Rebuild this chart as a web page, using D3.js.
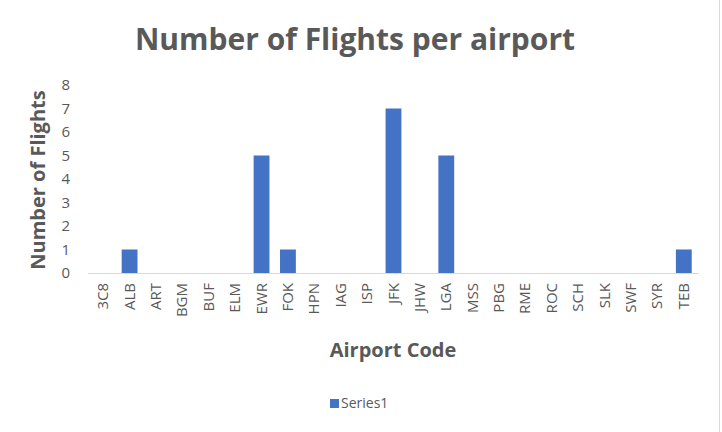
<!DOCTYPE html>
<html><head><meta charset="utf-8">
<script src="https://cdn.jsdelivr.net/npm/d3@7"></script>
<style>body{margin:0;background:#fff;font-family:"Open Sans",Calibri,sans-serif}</style>
</head><body><svg width="722" height="432"></svg>
<script>
var airports = ['3C8','ALB','ART','BGM','BUF','ELM','EWR','FOK','HPN','IAG','ISP','JFK','JHW','LGA','MSS','PBG','RME','ROC','SCH','SLK','SWF','SYR','TEB'],
    flights = [0,1,0,0,0,0,5,1,0,0,0,7,0,5,0,0,0,0,0,0,0,0,1],
    yTicks = [0,1,2,3,4,5,6,7,8];

var svg = d3.select('svg'),
    grey = '#595959',
    x = d3.scaleBand().domain(airports).range([90, 697]).paddingInner(0.4).paddingOuter(0.2),
    y = d3.scaleLinear().domain([0, 8]).range([273, 85]);

// right border line
svg.append('line').attr('x1', 719.5).attr('x2', 719.5).attr('y1', 0).attr('y2', 432)
    .attr('stroke', '#d9d9d9');

svg.append('text').text('Number of Flights per airport')
    .attr('x', 355).attr('y', 50).attr('text-anchor', 'middle')
    .attr('font-size', 30).attr('font-weight', 'bold').attr('fill', grey);

// y axis labels
svg.selectAll('text.ytick').data(yTicks).enter().append('text')
    .attr('class', 'ytick').text(function (d) { return d; })
    .attr('x', 70).attr('y', function (d) { return y(d) + 5; })
    .attr('text-anchor', 'end').attr('font-size', 15).attr('fill', grey);

svg.selectAll('rect.bar').data(flights).enter().append('rect')
    .attr('class', 'bar')
    .attr('x', function (d, i) { return x(airports[i]); })
    .attr('width', x.bandwidth())
    .attr('y', function (d) { return y(d); })
    .attr('height', function (d) { return y(0) - y(d); })
    .attr('fill', '#4472c4');

svg.append('line').attr('x1', 88).attr('x2', 699).attr('y1', y(0) + 0.5).attr('y2', y(0) + 0.5)
    .attr('stroke', '#d9d9d9');

svg.selectAll('text.xtick').data(airports).enter().append('text')
    .attr('class', 'xtick').text(function (d) { return d; })
    .attr('transform', function (d) {
        return 'translate(' + (x(d) + x.bandwidth() / 2 + 5) + ',283) rotate(-90)';
    })
    .attr('text-anchor', 'end').attr('font-size', 15).attr('fill', grey);

svg.append('text').text('Number of Flights')
    .attr('transform', 'translate(45,180) rotate(-90)')
    .attr('text-anchor', 'middle').attr('font-size', 20).attr('font-weight', 'bold').attr('fill', grey);

svg.append('text').text('Airport Code')
    .attr('x', 393).attr('y', 357).attr('text-anchor', 'middle')
    .attr('font-size', 20).attr('font-weight', 'bold').attr('fill', grey);

svg.append('rect').attr('x', 330).attr('y', 399).attr('width', 9).attr('height', 9).attr('fill', '#4472c4');
svg.append('text').text('Series1').attr('x', 341).attr('y', 408)
    .attr('font-size', 14).attr('fill', grey);
</script></body></html>
